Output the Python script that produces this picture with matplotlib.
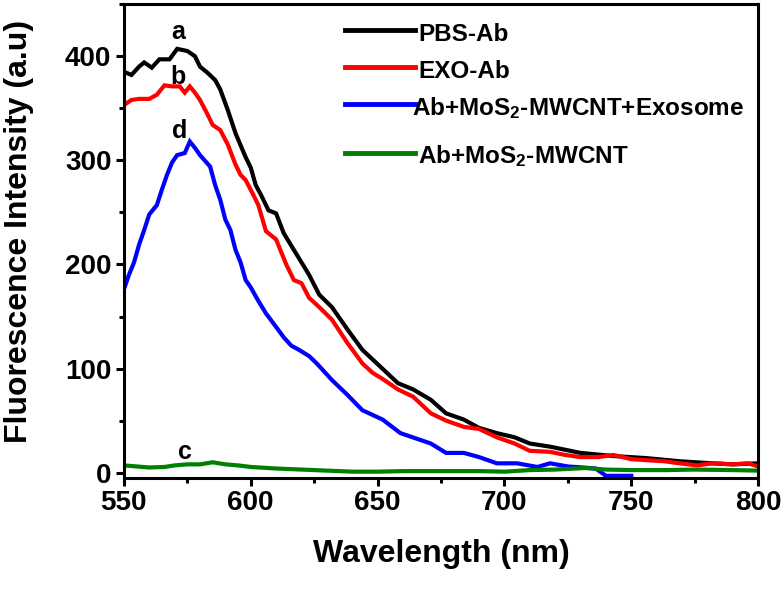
import matplotlib
matplotlib.use("Agg")
import matplotlib.pyplot as plt
from matplotlib.ticker import MultipleLocator

plt.rcParams['font.family'] = ['Liberation Sans', 'DejaVu Sans']
plt.rcParams['font.weight'] = 'bold'
plt.rcParams['mathtext.fontset'] = 'custom'
plt.rcParams['mathtext.bf'] = 'Liberation Sans:bold'
plt.rcParams['mathtext.rm'] = 'Liberation Sans:bold'
plt.rcParams['mathtext.default'] = 'bf'

# PBS-Ab (a)
pbs_x = [550, 553, 556, 558, 561, 564, 568, 571, 575, 578, 580, 583, 586, 588, 591, 594,
         598, 600, 602, 604, 607, 610, 613, 617, 623, 627, 632, 638, 644, 651, 658, 664,
         671, 677, 684, 690, 697, 704, 710, 718, 730, 743, 756, 769, 782, 790, 800]
pbs_y = [385, 382, 390, 394, 389, 397, 397, 407, 405, 400, 390, 384, 377, 368, 348, 326,
         303, 293, 276, 267, 252, 249, 230, 214, 190, 171, 159, 138, 118, 102, 86, 80,
         70, 57, 51, 43, 38, 34, 28, 25, 19, 16, 14, 11, 9, 8, 9]

# EXO-Ab (b)
exo_x = [550, 553, 556, 560, 563, 566, 569, 572, 574, 576, 578, 580, 583, 585, 588, 591,
         594, 596, 598, 601, 603, 606, 610, 614, 617, 620, 623, 627, 632, 638, 644, 648,
         652, 658, 664, 671, 677, 684, 690, 697, 704, 710, 718, 724, 730, 737, 743, 750,
         756, 763, 769, 776, 782, 790, 796, 800]
exo_y = [353, 358, 359, 359, 363, 372, 371, 371, 365, 371, 365, 358, 344, 334, 329, 315,
         296, 286, 281, 267, 257, 232, 224, 200, 185, 182, 168, 159, 147, 125, 105, 96,
         90, 80, 73, 57, 50, 44, 42, 34, 28, 21, 20, 17, 15, 15, 17, 13,
         12, 11, 9, 7, 9, 8, 9, 6]

# Ab+MoS2-MWCNT+Exosome (d)
mix_x = [550, 552, 554, 556, 558, 560, 563, 565, 567, 569, 571, 574, 576, 578, 580, 584,
         586, 588, 590, 592, 594, 596, 598, 600, 603, 606, 610, 613, 616, 619, 623, 626,
         629, 632, 638, 644, 652, 659, 665, 671, 677, 684, 690, 697, 705, 713, 718, 725,
         731, 736, 740, 750]
mix_y = [176, 190, 202, 219, 233, 248, 257, 272, 286, 298, 305, 307, 318, 312, 305, 294,
         276, 262, 243, 233, 214, 202, 185, 178, 165, 153, 140, 130, 122, 118, 112, 105,
         97, 89, 75, 60, 51, 38, 33, 28, 19, 19, 15, 9, 9, 5.5, 9, 6,
         5, 4, -3, -3]

# Ab+MoS2-MWCNT (c)
mos_x = [550, 555, 560, 566, 570, 575, 580, 585, 590, 595, 600, 610, 620, 630, 640, 650,
         660, 670, 680, 690, 700, 710, 720, 732, 740, 750, 764, 775, 790, 800]
mos_y = [7, 6, 5, 5.5, 7, 8, 8, 10, 8, 7, 5.5, 4, 3, 2, 1, 1,
         1.5, 1.5, 1.5, 1.5, 1, 2.5, 3, 4.5, 3, 2.5, 2.5, 3, 2.5, 2]

labels = ['PBS-Ab', 'EXO-Ab', r'Ab+MoS$_2$-MWCNT+Exosome', r'Ab+MoS$_2$-MWCNT']
colors = ['#000000', '#ff0000', '#0000ff', '#008000']

fig = plt.figure(figsize=(7.84, 5.90), dpi=100)
ax = fig.add_axes([0.158, 0.19, 0.809, 0.803])

series = [(pbs_x, pbs_y), (exo_x, exo_y), (mix_x, mix_y), (mos_x, mos_y)]
for (xs, ys), col in zip(series, colors):
    ax.plot(xs, ys, color=col, lw=3, solid_joinstyle='miter')

ax.set_xlim(550, 800)
ax.set_ylim(-5, 450)
ax.xaxis.set_major_locator(MultipleLocator(50))
ax.xaxis.set_minor_locator(MultipleLocator(25))
ax.yaxis.set_major_locator(MultipleLocator(100))
ax.yaxis.set_minor_locator(MultipleLocator(50))
ax.tick_params(which='major', direction='out', length=6, width=2.2, labelsize=20, pad=3)
ax.tick_params(which='minor', direction='out', length=3.5, width=2.2)
for s in ax.spines.values():
    s.set_linewidth(2.2)
for t in ax.get_xticklabels() + ax.get_yticklabels():
    t.set_fontweight('bold')

ax.set_xlabel('Wavelength (nm)', fontsize=23, fontweight='bold', labelpad=16)
ax.set_ylabel('Fluorescence Intensity (a.u)', fontsize=23, fontweight='bold')
ax.yaxis.set_label_coords(-0.142, 0.52)

ax.text(571.3, 423, 'a', fontsize=18, fontweight='bold', ha='center', va='center')
ax.text(571.3, 380, 'b', fontsize=18, fontweight='bold', ha='center', va='center')
ax.text(572.1, 328, 'd', fontsize=18, fontweight='bold', ha='center', va='center')
ax.text(574.0, 20, 'c', fontsize=18, fontweight='bold', ha='center', va='center')

# legend drawn by hand so the uneven row spacing of the original is kept
leg_line_y = [0.945, 0.867, 0.789, 0.686]
leg_text_y = [0.922, 0.844, 0.766, 0.665]
leg_text_x = [0.464, 0.464, 0.455, 0.464]
for lab, col, ly, ty, tx in zip(labels, colors, leg_line_y, leg_text_y, leg_text_x):
    ax.plot([0.349, 0.459], [ly, ly], color=col, lw=3.5, transform=ax.transAxes)
    ax.text(tx, ty, lab, transform=ax.transAxes, fontsize=17.5, fontweight='bold',
            ha='left', va='baseline')

fig.savefig('out.png', dpi=100)
